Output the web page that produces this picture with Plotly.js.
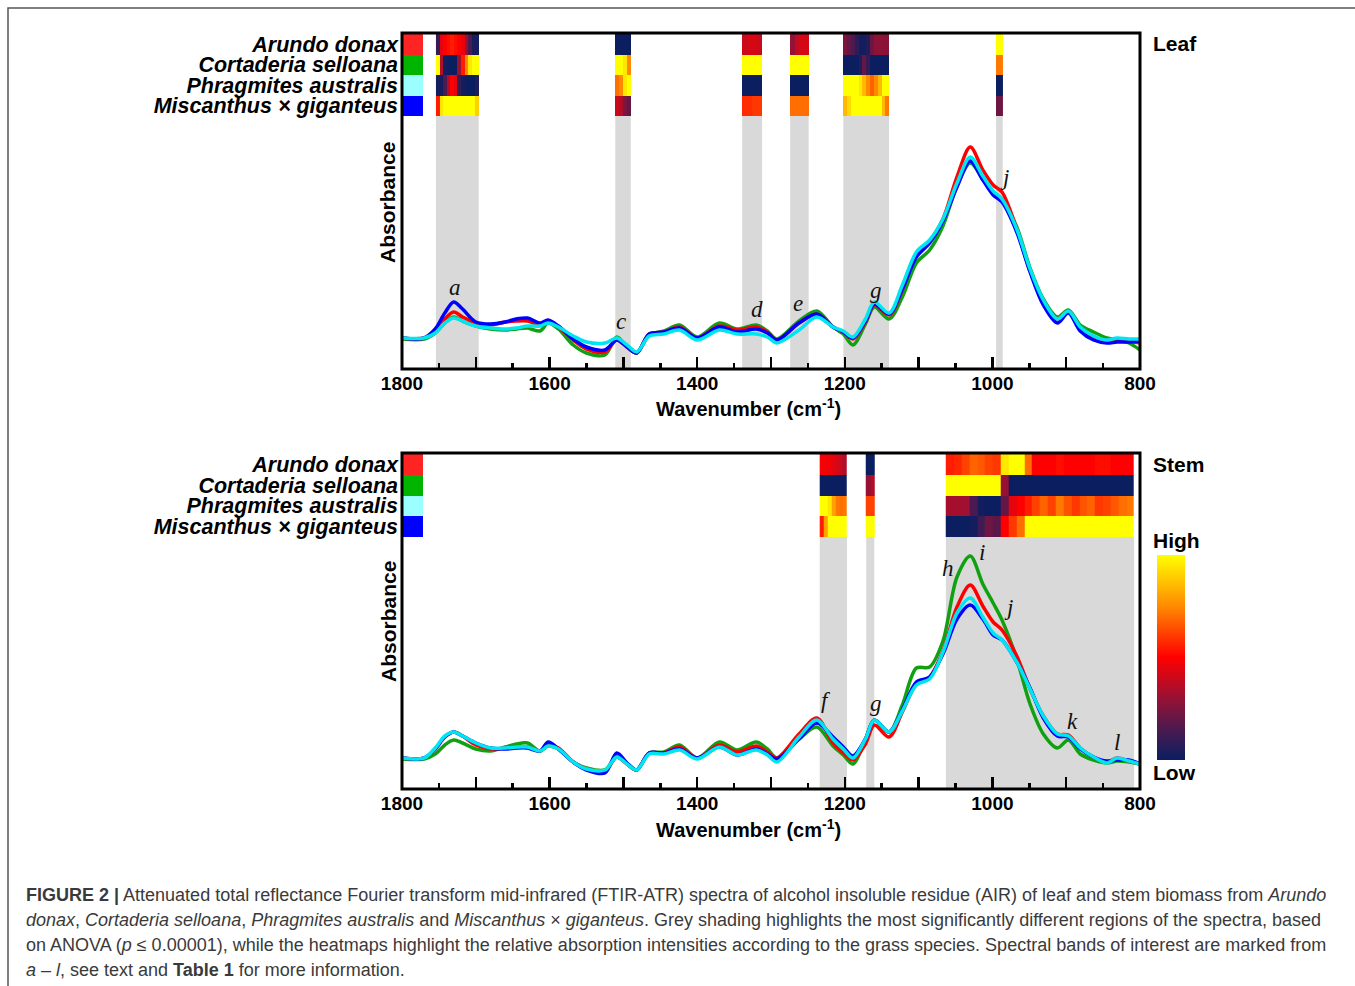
<!DOCTYPE html>
<html>
<head>
<meta charset="utf-8">
<script src="https://cdn.plot.ly/plotly-3.0.1.min.js"></script>
<style>
  html, body { margin: 0; padding: 0; background: #fff; }
  #chart { width: 1355px; height: 986px; }
</style>
</head>
<body>
<div id="chart"></div>
<script>
// ---------------- DATA ----------------
const species = ['Arundo donax', 'Cortaderia selloana', 'Phragmites australis', 'Miscanthus × giganteus'];
const speciesColors = ['#ff2424', '#00b400', '#9cffff', '#0000ff'];
const lineColors = ['#ff0000', '#11a011', '#00e6f0', '#0000ff'];

// wavenumber grid (cm-1)
const wavenumber = [1800, 1770, 1755, 1742, 1730, 1718, 1700, 1680, 1660, 1645, 1630, 1613, 1602, 1588, 1568, 1550, 1525, 1509, 1495, 1482, 1465, 1445, 1424, 1400, 1370, 1346, 1320, 1305, 1292, 1262, 1238, 1216, 1202, 1189, 1172, 1160, 1140, 1122, 1103, 1085, 1067, 1048, 1030, 1013, 999, 987, 967, 949, 931, 912, 897, 881, 863, 845, 831, 815, 800];

// Leaf absorbance (arbitrary units)
const leafArundo      = [31, 31, 39, 50, 57, 52, 46, 44, 47, 48, 48, 44, 47, 42, 29, 20, 17, 29, 22, 16, 35, 37, 42, 31, 43, 39, 42, 37, 29, 46, 55, 42, 37, 30, 47, 64, 54, 79, 115, 128, 150, 192, 222, 199, 184, 177, 140, 98, 68, 50, 58, 40, 32, 29, 30, 28, 26];
const leafCortaderia  = [30, 30, 36, 46, 52, 48, 43, 40, 39, 40, 41, 38, 46, 40, 24, 16, 14, 32, 22, 16, 34, 38, 44, 32, 46, 40, 44, 38, 30, 48, 58, 42, 35, 24, 45, 62, 50, 72, 106, 119, 143, 183, 206, 190, 177, 170, 142, 101, 70, 52, 59, 44, 37, 31, 29, 26, 19];
const leafPhragmites  = [31, 31, 36, 46, 51, 48, 43, 41, 40, 41, 43, 43, 46, 42, 33, 27, 26, 31, 24, 17, 33, 35, 39, 29, 39, 35, 35, 32, 26, 39, 52, 42, 38, 32, 50, 67, 56, 84, 117, 129, 150, 186, 212, 193, 178, 170, 140, 100, 69, 50, 58, 42, 33, 29, 31, 30, 30];
const leafMiscanthus  = [31, 31, 40, 56, 67, 60, 47, 45, 47, 50, 51, 46, 49, 43, 30, 22, 19, 29, 22, 16, 35, 37, 41, 31, 42, 37, 40, 36, 29, 46, 55, 42, 37, 31, 48, 65, 55, 80, 112, 126, 148, 182, 208, 189, 174, 167, 137, 97, 64, 46, 56, 38, 29, 26, 27, 27, 28];

// Stem absorbance (arbitrary units)
const stemArundo      = [31, 31, 40, 52, 57, 53, 44, 40, 41, 42, 42, 38, 44, 41, 27, 20, 18, 32, 25, 19, 36, 36, 42, 31, 44, 37, 43, 37, 31, 55, 71, 46, 36, 29, 45, 64, 52, 77, 105, 112, 138, 182, 204, 183, 167, 159, 133, 100, 73, 55, 54, 41, 32, 27, 31, 28, 25];
const stemCortaderia  = [30, 30, 35, 44, 49, 46, 40, 38, 42, 45, 46, 38, 43, 40, 27, 21, 19, 32, 25, 19, 36, 37, 44, 31, 47, 39, 47, 40, 31, 50, 62, 43, 34, 25, 50, 69, 57, 84, 121, 122, 148, 212, 233, 205, 186, 169, 130, 85, 55, 41, 49, 35, 29, 26, 28, 27, 25];
const stemPhragmites  = [31, 31, 41, 53, 57, 53, 46, 41, 41, 42, 42, 38, 43, 40, 27, 20, 19, 32, 25, 19, 35, 35, 39, 30, 42, 34, 39, 34, 27, 52, 69, 50, 40, 31, 50, 69, 57, 78, 104, 110, 137, 176, 191, 172, 156, 149, 127, 100, 73, 55, 53, 41, 32, 26, 31, 28, 25];
const stemMiscanthus  = [31, 31, 40, 52, 57, 53, 46, 41, 40, 41, 41, 38, 47, 40, 27, 19, 16, 36, 26, 19, 36, 36, 40, 31, 42, 34, 40, 35, 30, 50, 66, 52, 42, 33, 50, 69, 57, 79, 107, 112, 135, 170, 184, 170, 154, 149, 127, 101, 71, 53, 52, 40, 32, 28, 29, 29, 25];

// Significantly different regions (ANOVA), [from, to] in cm-1
const leafBands = [[1754, 1696], [1511, 1490], [1339, 1312], [1274, 1249], [1202, 1140], [995, 986]];
const stemBands = [[1234, 1197], [1171, 1160], [1063, 808]];

// Relative intensity heatmaps (0 = low, 1 = high), per band, sampled from high to low wavenumber
const leafHeatArundo = [
  [0.1, 0.45, 0.5, 0.52, 0.55, 0.52, 0.5, 0.45, 0.3, 0.15, 0.03, 0.03],
  [0, 0, 0, 0],
  [0.4, 0.42, 0.42, 0.4],
  [0.3, 0.38, 0.42, 0.42],
  [0.24, 0.2, 0.15, 0.08, 0.02, 0.02, 0.05, 0.22, 0.28, 0.28, 0.28, 0.27],
  [1, 1]
];
const leafHeatCortaderia = [
  [1, 0.35, 0.02, 0, 0, 0, 0.3, 0.55, 0.75, 0.95, 1, 1],
  [1, 1, 0.95, 0.75],
  [1, 1, 1, 1],
  [1, 1, 1, 1],
  [0, 0, 0, 0, 0.05, 0.2, 0.1, 0, 0, 0, 0, 0],
  [0.72, 0.72]
];
const leafHeatPhragmites = [
  [0.02, 0.02, 0.15, 0.35, 0.5, 0.45, 0.1, 0.02, 0, 0, 0, 0.05],
  [0.7, 0.75, 0.95, 1],
  [0, 0, 0, 0],
  [0, 0, 0, 0],
  [1, 1, 1, 1, 0.95, 0.85, 0.75, 0.68, 0.75, 0.85, 1, 1],
  [0, 0]
];
const leafHeatMiscanthus = [
  [0.55, 0.95, 1, 1, 1, 1, 1, 1, 1, 1, 1, 0.9],
  [0.4, 0.35, 0.25, 0.2],
  [0.58, 0.58, 0.6, 0.6],
  [0.7, 0.7, 0.7, 0.7],
  [0.85, 0.92, 1, 1, 1, 1, 1, 1, 1, 1, 0.85, 0.72],
  [0.22, 0.22]
];
const stemHeatArundo = [
  [0.48, 0.48, 0.47, 0.45, 0.42, 0.38, 0.35],
  [0, 0],
  [0.55, 0.57, 0.62, 0.68, 0.66, 0.62, 0.6, 0.95, 1, 1, 0.7, 0.5, 0.5, 0.5, 0.52, 0.5, 0.5, 0.5, 0.5, 0.52, 0.52, 0.5, 0.5, 0.5]
];
const stemHeatCortaderia = [
  [0, 0, 0, 0, 0, 0, 0],
  [0.3, 0.35],
  [1, 1, 1, 1, 1, 1, 1, 0.3, 0, 0, 0, 0, 0, 0, 0, 0, 0, 0, 0, 0, 0, 0, 0, 0]
];
const stemHeatPhragmites = [
  [1, 1, 0.95, 0.8, 0.72, 0.7, 0.72],
  [0.62, 0.62],
  [0.33, 0.33, 0.32, 0.15, 0.02, 0, 0, 0.2, 0.45, 0.5, 0.55, 0.62, 0.68, 0.62, 0.72, 0.65, 0.6, 0.65, 0.68, 0.6, 0.62, 0.66, 0.7, 0.72]
];
const stemHeatMiscanthus = [
  [0.55, 0.8, 1, 1, 1, 1, 1],
  [1, 1],
  [0, 0, 0, 0.02, 0.12, 0.22, 0.18, 0.5, 0.6, 0.7, 1, 1, 1, 1, 1, 1, 1, 1, 1, 1, 1, 1, 1, 1]
];

// Band labels
const leafBandLabels = ['a', 'c', 'd', 'e', 'g', 'j'];
const leafBandWn     = [1728, 1503, 1319, 1263, 1158, 984];
const leafBandAbs    = [82, 48, 60, 66, 79, 192];
const stemBandLabels = ['f', 'g', 'h', 'i', 'j', 'k', 'l'];
const stemBandWn     = [1225, 1158, 1060, 1014, 978, 891, 831];
const stemBandAbs    = [89, 86, 221, 237, 182, 68, 47];

const majorTicks = [1800, 1700, 1600, 1500, 1400, 1300, 1200, 1100, 1000, 900, 800];
const majorLabels = ['1800', ' ', '1600', ' ', '1400', ' ', '1200', ' ', '1000', ' ', '800'];
const minorTicks = [1750, 1650, 1550, 1450, 1350, 1250, 1150, 1050, 950, 850];

// ---------------- HELPERS ----------------
const W = 1355, H = 986;
const px = v => v / W;
const py = v => 1 - v / H;
const FONT = 'Arial, "Liberation Sans", Helvetica, sans-serif';

const heatScale = [[0, '#0b1e60'], [0.15, '#4b1a50'], [0.32, '#a01030'], [0.5, '#ff0000'], [0.75, '#ff8a00'], [1, '#ffff00']];

function buildHeat(bands, rows) {
  const order = bands.map((b, i) => i).sort((a, b) => Math.min(...bands[a]) - Math.min(...bands[b]));
  const xb = [];
  const z = rows.map(() => []);
  order.forEach((k, idx) => {
    const lo = Math.min(...bands[k]), hi = Math.max(...bands[k]);
    const n = rows[0][k].length;
    if (idx > 0) z.forEach(r => r.push(null));
    for (let j = 0; j <= n; j++) xb.push(lo + (hi - lo) * j / n);
    rows.forEach((r, ri) => {
      const vals = r[k].slice().reverse();
      vals.forEach(v => z[ri].push(v));
    });
  });
  return { x: xb, z: z };
}

const leafHeat = buildHeat(leafBands, [leafHeatArundo, leafHeatCortaderia, leafHeatPhragmites, leafHeatMiscanthus]);
const stemHeat = buildHeat(stemBands, [stemHeatArundo, stemHeatCortaderia, stemHeatPhragmites, stemHeatMiscanthus]);

const speciesScale = [];
speciesColors.forEach((c, i) => {
  speciesScale.push([i / 4, c]);
  speciesScale.push([(i + 1) / 4, c]);
});

const traces = [];
function addPanel(xa, ya, yh, heat, series, showScale) {
  traces.push({
    type: 'heatmap', x: heat.x, y: [0, 1, 2, 3], z: heat.z,
    xaxis: xa, yaxis: yh, colorscale: heatScale, zmin: 0, zmax: 1,
    showscale: showScale, hoverinfo: 'skip',
    colorbar: {
      x: px(1157), xanchor: 'left', y: py(555), yanchor: 'top',
      len: 205, lenmode: 'pixels', thickness: 28, thicknessmode: 'pixels',
      showticklabels: false, ticks: '', outlinewidth: 0, xpad: 0, ypad: 0
    }
  });
  traces.push({
    type: 'heatmap', x: [1772, 1800], y: [0, 1, 2, 3], z: [[0], [1], [2], [3]],
    xaxis: xa, yaxis: yh, colorscale: speciesScale, zmin: 0, zmax: 4,
    showscale: false, hoverinfo: 'skip'
  });
  // draw order: green, red, blue, cyan (cyan on top)
  const drawOrder = [1, 0, 3, 2];
  drawOrder.forEach(i => {
    traces.push({
      type: 'scatter', mode: 'lines', x: wavenumber, y: series[i],
      xaxis: xa, yaxis: ya, name: species[i],
      line: { color: lineColors[i], width: 3.5, shape: 'spline', smoothing: 0.9 },
      hoverinfo: 'skip'
    });
  });
}
addPanel('x', 'y', 'y2', leafHeat, [leafArundo, leafCortaderia, leafPhragmites, leafMiscanthus], true);
addPanel('x3', 'y3', 'y4', stemHeat, [stemArundo, stemCortaderia, stemPhragmites, stemMiscanthus], false);

const xDom = [px(402), px(1140)];
function xBottom(anchor) {
  return {
    domain: xDom, range: [1800, 800], anchor: anchor,
    tickmode: 'array', tickvals: majorTicks, ticktext: majorLabels,
    ticks: 'inside', ticklen: 12, tickwidth: 2.5, tickcolor: '#000',
    minor: { tickmode: 'array', tickvals: minorTicks, ticks: 'inside', ticklen: 6, tickwidth: 2.5, tickcolor: '#000' },
    tickfont: { family: FONT, size: 19, weight: 'bold', color: '#000' },
    ticklabelstandoff: 1,
    showline: false, showgrid: false, zeroline: false, fixedrange: true
  };
}
function xTop(overlay, posPix) {
  return {
    overlaying: overlay, side: 'top', anchor: 'free', position: py(posPix),
    domain: xDom, range: [1800, 800],
    tickmode: 'array', tickvals: majorTicks, showticklabels: false,
    ticks: 'inside', ticklen: 12, tickwidth: 2.5, tickcolor: '#000',
    minor: { tickmode: 'array', tickvals: minorTicks, ticks: 'inside', ticklen: 6, tickwidth: 2.5, tickcolor: '#000' },
    showline: false, showgrid: false, zeroline: false, fixedrange: true
  };
}
function ySpec(dom, xa, top) {
  return { domain: dom, anchor: xa, range: [0, top], showticklabels: false, ticks: '', showgrid: false, zeroline: false, showline: false, fixedrange: true };
}
function yHeat(dom, xa) {
  return {
    domain: dom, anchor: xa, range: [3.5, -0.5], tickmode: 'array', tickvals: [0, 1, 2, 3], ticktext: species,
    ticks: '', showgrid: false, zeroline: false, showline: false, fixedrange: true,
    tickfont: { family: FONT, size: 21.5, weight: 'bold', style: 'italic', color: '#000' },
    ticklabelstandoff: 3
  };
}

const shapes = [];
// grey shading
leafBands.forEach(b => shapes.push({ type: 'rect', xref: 'x', yref: 'y domain', x0: b[0], x1: b[1], y0: 0, y1: 1, fillcolor: '#d9d9d9', line: { width: 0 }, layer: 'below' }));
stemBands.forEach(b => shapes.push({ type: 'rect', xref: 'x3', yref: 'y3 domain', x0: b[0], x1: b[1], y0: 0, y1: 1, fillcolor: '#d9d9d9', line: { width: 0 }, layer: 'below' }));
// frames
[[33, 369], [453, 789]].forEach(f => shapes.push({ type: 'rect', xref: 'paper', yref: 'paper', x0: px(402), x1: px(1140), y0: py(f[1]), y1: py(f[0]), line: { color: '#000', width: 3 }, layer: 'above' }));
// outer page border
shapes.push({ type: 'rect', xref: 'paper', yref: 'paper', x0: px(8), x1: 1.02, y0: -0.02, y1: py(8), line: { color: '#555', width: 1.5 }, layer: 'above' });

const annotations = [];
const bold = (t, x, y, opts) => Object.assign({ text: t, xref: 'paper', yref: 'paper', x: px(x), y: py(y), showarrow: false, font: { family: FONT, size: 21, weight: 'bold', color: '#000' }, xanchor: 'left', yanchor: 'middle' }, opts || {});
annotations.push(bold('Leaf', 1151, 43));
annotations.push(bold('Stem', 1151, 464));
annotations.push(bold('High', 1151, 540));
annotations.push(bold('Low', 1151, 772));
annotations.push(bold('Wavenumber (cm<sup>-1</sup>)', 748, 408, { xanchor: 'center', font: { family: FONT, size: 20, weight: 'bold', color: '#000' } }));
annotations.push(bold('Wavenumber (cm<sup>-1</sup>)', 748, 828, { xanchor: 'center', font: { family: FONT, size: 20, weight: 'bold', color: '#000' } }));
annotations.push(bold('Absorbance', 388, 203, { xanchor: 'center', textangle: -90 }));
annotations.push(bold('Absorbance', 388, 622, { xanchor: 'center', textangle: -90 }));

const letterFont = { family: '"Liberation Serif", "Times New Roman", serif', size: 23, style: 'italic', color: '#111' };
leafBandLabels.forEach((t, i) => annotations.push({ text: t, xref: 'x', yref: 'y', x: leafBandWn[i], y: leafBandAbs[i], showarrow: false, font: letterFont, xanchor: 'center', yanchor: 'middle' }));
stemBandLabels.forEach((t, i) => annotations.push({ text: t, xref: 'x3', yref: 'y3', x: stemBandWn[i], y: stemBandAbs[i], showarrow: false, font: letterFont, xanchor: 'center', yanchor: 'middle' }));

const capFont = { family: FONT, size: 18, color: '#3a3a3a' };
const captionLines = [
  '<b>FIGURE 2 |</b> Attenuated total reflectance Fourier transform mid-infrared (FTIR-ATR) spectra of alcohol insoluble residue (AIR) of leaf and stem biomass from <i>Arundo</i>',
  '<i>donax</i>, <i>Cortaderia selloana</i>, <i>Phragmites australis</i> and <i>Miscanthus</i> × <i>giganteus</i>. Grey shading highlights the most significantly different regions of the spectra, based',
  'on ANOVA (<i>p</i> ≤ 0.00001), while the heatmaps highlight the relative absorption intensities according to the grass species. Spectral bands of interest are marked from',
  '<i>a</i> – <i>l</i>, see text and <b>Table 1</b> for more information.'
];
captionLines.forEach((t, i) => annotations.push({ text: t, xref: 'paper', yref: 'paper', x: px(24), y: py(895 + 25 * i), showarrow: false, font: capFont, xanchor: 'left', yanchor: 'middle', align: 'left' }));

const layout = {
  width: W, height: H,
  margin: { l: 0, r: 0, t: 0, b: 0, pad: 0 },
  paper_bgcolor: '#ffffff', plot_bgcolor: 'rgba(0,0,0,0)',
  showlegend: false,
  xaxis: xBottom('y'),
  xaxis2: xTop('x', 33),
  xaxis3: xBottom('y3'),
  xaxis4: xTop('x3', 453),
  yaxis: ySpec([py(369), py(116)], 'x', 253),
  yaxis2: yHeat([py(116), py(34)], 'x'),
  yaxis3: ySpec([py(789), py(537)], 'x3', 252),
  yaxis4: yHeat([py(537), py(454)], 'x3'),
  shapes: shapes,
  annotations: annotations
};

Plotly.newPlot('chart', traces, layout, { displayModeBar: false, staticPlot: true });
</script>
</body>
</html>
